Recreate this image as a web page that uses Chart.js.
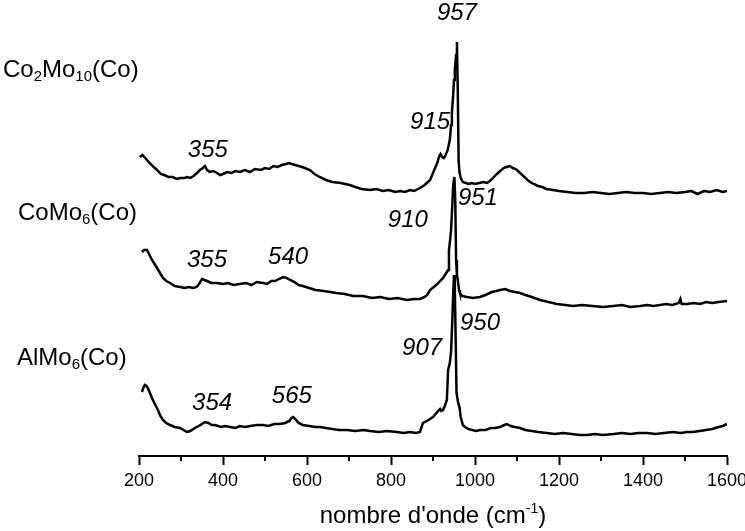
<!DOCTYPE html>
<html>
<head>
<meta charset="utf-8">
<script src="https://cdn.jsdelivr.net/npm/chart.js@4/dist/chart.umd.min.js"></script>
<style>
  html, body { margin: 0; padding: 0; background: #fff; }
  #cont { width: 745px; height: 531px; position: relative; }
</style>
</head>
<body>
<div id="cont"><canvas id="canvas-raman"></canvas></div>
<script>
// spectres Raman (intensite en unites arbitraires, deja decalees)
const ondeCo2Mo10 = [202,208,215,225,235,243,252,260,270,280,290,298,308,315,322,330,338,345,352,357,362,368,377,386,393,400,410,420,430,440,452,464,476,490,500,510,520,530,540,550,557,564,572,580,588,595,600,607,618,630,645,660,680,702,715,730,750,765,780,795,810,822,833,845,855,869,880,888,893,900,905,910,915,918,922,926,930,935,940,943,945,948,950,952,955,957,959,961,963,966,971,978,985,992,1000,1010,1020,1029,1038,1045,1052,1060,1068,1075,1083,1090,1097,1105,1115,1125,1131,1140,1150,1160,1170,1186,1200,1220,1240,1260,1280,1300,1320,1340,1360,1380,1400,1420,1440,1460,1480,1500,1515,1530,1545,1560,1575,1590,1600];
const intCo2Mo10 = [299,301,298,293,289,286,282,281,279,279,277,278,278,279,278,280,283,286,288,290,286,284,285,283,281,282,284,283,285,284,286,284,287,286,288,287,290,289,291,292,293,292,291,290,289,288,287,286,282,279,276,274,273,271,269,267,266,267,265,266,264,265,264,266,265,268,271,274,276,283,288,293,300,302,299,298,301,306,316,331,343,361,376,386,401,414,366,296,284,278,274,273,272,273,272,273,274,273,276,279,282,285,288,289,290,288,287,284,280,276,274,272,270,269,267,266,265,264,263,263,264,263,262,263,264,263,263,262,263,264,263,264,265,262,265,264,266,264,265];

const ondeCoMo6 = [207,212,219,225,231,237,243,250,257,265,274,285,298,308,318,329,337,343,350,356,362,372,386,400,412,425,440,455,468,480,495,505,515,524,533,543,551,560,570,580,590,605,620,640,655,670,690,710,733,755,775,795,815,838,855,869,880,886,893,902,910,917,924,930,936,938,940,943,946,948,951,953,955,957,959,962,964,970,981,995,1012,1025,1040,1060,1072,1083,1095,1107,1120,1135,1155,1175,1195,1215,1233,1255,1280,1305,1329,1350,1370,1393,1410,1425,1440,1455,1470,1485,1489,1492,1505,1520,1536,1550,1565,1580,1600];
const intCoMo6 = [204,206,206,201,196,192,188,183,178,175,173,170,169,168,169,168,169,172,177,176,175,173,173,172,173,171,172,173,171,174,173,172,175,175,177,179,178,176,174,171,170,168,166,165,164,163,162,160,160,158,159,157,158,156,157,157,159,161,166,169,172,175,178,182,186,206,213,226,251,271,279,256,196,181,176,166,163,160,159,158,159,161,164,166,167,165,164,163,161,159,156,154,152,151,150,151,150,149,150,151,149,150,151,150,151,152,151,153,157,152,152,153,152,154,153,154,155];

const ondeAlMo6 = [207,211,214,218,221,227,233,239,245,251,257,265,274,285,298,306,314,322,333,342,350,357,365,373,381,395,405,417,430,440,452,465,480,495,508,522,536,548,558,563,567,572,580,590,605,620,631,645,660,675,695,715,735,750,770,790,814,830,845,860,869,876,885,893,900,908,917,920,924,928,933,936,940,943,946,948,950,952,954,956,960,963,966,971,976,985,993,1003,1012,1025,1038,1048,1060,1070,1076,1085,1095,1107,1120,1135,1150,1171,1190,1210,1230,1250,1267,1285,1305,1330,1350,1370,1390,1410,1430,1450,1470,1490,1505,1519,1535,1550,1565,1580,1590,1600];
const intAlMo6 = [64,69,71,70,68,62,56,51,46,40,36,33,31,29,28,26,24,25,28,30,32,34,33,31,31,29,30,29,28,30,29,30,31,31,30,32,32,33,35,38,39,37,33,31,30,29,29,28,27,26,26,25,26,25,24,25,24,23,24,23,24,33,35,37,39,43,47,45,46,50,56,86,93,104,136,161,181,166,116,63,53,49,39,31,29,27,26,25,26,26,28,28,29,31,32,30,29,28,26,25,24,23,22,23,22,21,21,22,21,22,23,22,23,23,22,23,24,23,24,24,25,26,27,29,30,32];

// noms des echantillons : [texte, indice?]
const nomCo2Mo10 = [['Co',false],['2',true],['Mo',false],['10',true],['(Co)',false]];
const nomCoMo6 = [['CoMo',false],['6',true],['(Co)',false]];
const nomAlMo6 = [['AlMo',false],['6',true],['(Co)',false]];

// etiquettes des bandes : texte, position en nombre d'onde / intensite
const bandes = [
  ['957', 957, 443], ['915', 893, 334], ['355', 364, 306],
  ['951', 1007, 258], ['910', 840, 236], ['355', 362, 196], ['540', 555, 199],
  ['950', 1012, 133], ['907', 874, 108], ['354', 374, 53], ['565', 564, 60]
];

const ticksX = [200,400,600,800,1000,1200,1400,1600];
const ticksMineurs = [300,500,700,900,1100,1300,1500];

const FONT = "Arial, 'Liberation Sans', sans-serif";

function serie(ondes, ints){
  return ondes.map((e,i)=>({x: e, y: ints[i]}));
}

function ecrireNom(ctx, parts, x, y){
  let px = x;
  parts.forEach((p)=>{
    ctx.font = p[1] ? "15px " + FONT : "24px " + FONT;
    ctx.fillText(p[0], px, p[1] ? y + 7 : y);
    px += ctx.measureText(p[0]).width;
  });
}

const pluginTextes = {
  id: 'textes',
  afterDraw(chart){
    const ctx = chart.ctx;
    const sx = chart.scales.x, sy = chart.scales.y;
    const area = chart.chartArea;
    ctx.save();
    ctx.fillStyle = '#000';
    ctx.strokeStyle = '#000';

    // petites graduations
    ctx.lineWidth = 2;
    ticksMineurs.forEach((t)=>{
      const px = Math.round(sx.getPixelForValue(t));
      ctx.beginPath();
      ctx.moveTo(px, area.bottom);
      ctx.lineTo(px, area.bottom + 5);
      ctx.stroke();
    });

    // bandes
    ctx.font = "italic 24px " + FONT;
    ctx.textAlign = 'center';
    ctx.textBaseline = 'middle';
    bandes.forEach((b)=>{
      ctx.fillText(b[0], sx.getPixelForValue(b[1]), sy.getPixelForValue(b[2]));
    });

    // noms des spectres
    ctx.textAlign = 'left';
    ecrireNom(ctx, nomCo2Mo10, area.left - 136, sy.getPixelForValue(386));
    ecrireNom(ctx, nomCoMo6, area.left - 121, sy.getPixelForValue(243));
    ecrireNom(ctx, nomAlMo6, area.left - 122, sy.getPixelForValue(98));

    // titre de l'axe
    ctx.textBaseline = 'alphabetic';
    const t1 = "nombre d'onde (cm", t2 = "-1", t3 = ")";
    ctx.font = "24px " + FONT;
    const w1 = ctx.measureText(t1).width, w3 = ctx.measureText(t3).width;
    ctx.font = "14px " + FONT;
    const w2 = ctx.measureText(t2).width;
    let x0 = (area.left + area.right)/2 - (w1 + w2 + w3)/2;
    const yb = 523;
    ctx.font = "24px " + FONT;
    ctx.fillText(t1, x0, yb);
    ctx.font = "14px " + FONT;
    ctx.fillText(t2, x0 + w1, yb - 10);
    ctx.font = "24px " + FONT;
    ctx.fillText(t3, x0 + w1 + w2, yb);
    ctx.restore();
  }
};

const ligne = {
  borderColor: '#000',
  borderWidth: 2.5,
  pointRadius: 0,
  tension: 0,
  fill: false
};

const ctx_g = document.getElementById("canvas-raman");
const grafico = new Chart(ctx_g, {
  type: 'line',
  data: {
    datasets: [
      Object.assign({label: 'Co2Mo10(Co)', data: serie(ondeCo2Mo10, intCo2Mo10)}, ligne),
      Object.assign({label: 'CoMo6(Co)', data: serie(ondeCoMo6, intCoMo6)}, ligne),
      Object.assign({label: 'AlMo6(Co)', data: serie(ondeAlMo6, intAlMo6)}, ligne)
    ]
  },
  options: {
    responsive: true,
    maintainAspectRatio: false,
    animation: false,
    layout: { padding: { left: 139, right: 18, top: 0, bottom: 0 } },
    plugins: { legend: { display: false }, tooltip: { enabled: false } },
    scales: {
      x: {
        type: 'linear',
        min: 200,
        max: 1600,
        afterBuildTicks: (axis)=>{ axis.ticks = ticksX.map((v)=>({value: v})); },
        afterFit: (axis)=>{ axis.height = 75; axis.paddingLeft = 0; axis.paddingRight = 0; },
        border: { display: true, color: '#000', width: 2 },
        grid: { drawOnChartArea: false, drawTicks: true, tickLength: 9, tickWidth: 2, tickColor: '#000' },
        ticks: {
          color: '#000',
          font: { family: FONT, size: 18 },
          padding: 5,
          maxRotation: 0,
          callback: (v)=>String(v)
        }
      },
      y: {
        display: false,
        min: 0,
        max: 456
      }
    }
  },
  plugins: [pluginTextes]
});
</script>
</body>
</html>
